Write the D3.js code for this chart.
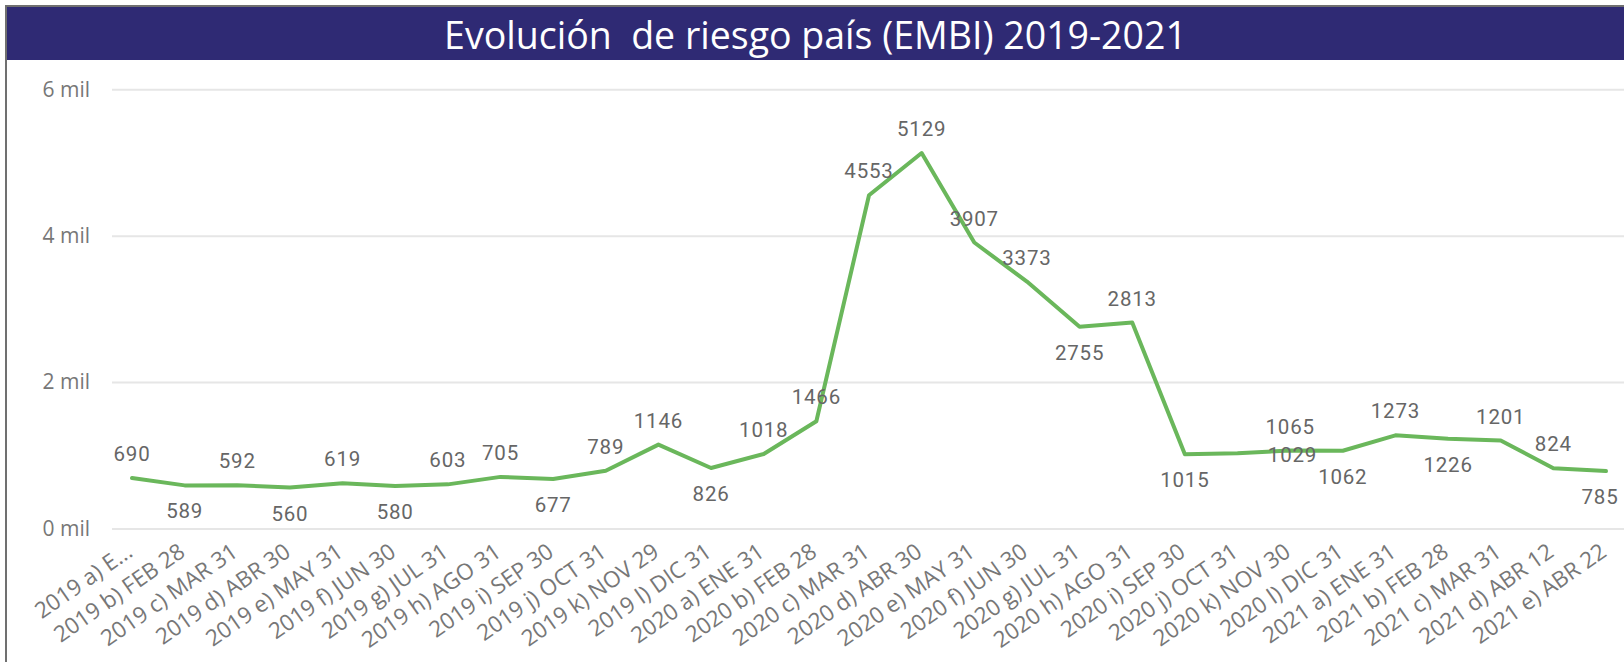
<!DOCTYPE html>
<html>
<head>
<meta charset="utf-8">
<script src="https://cdn.jsdelivr.net/npm/d3@7"></script>
<style>
    body { margin: 0; background: #ffffff; }
    svg { display: block; }
</style>
</head>
<body>
<svg id="embi-chart" width="1624" height="662"></svg>
<script>
const chartTitle = "Evolución\u00a0 de riesgo país (EMBI) 2019-2021";

const categories = [
    "2019 a) ENE 31", "2019 b) FEB 28", "2019 c) MAR 31", "2019 d) ABR 30", "2019 e) MAY 31",
    "2019 f) JUN 30", "2019 g) JUL 31", "2019 h) AGO 31", "2019 i) SEP 30", "2019 j) OCT 31",
    "2019 k) NOV 29", "2019 l) DIC 31", "2020 a) ENE 31", "2020 b) FEB 28", "2020 c) MAR 31",
    "2020 d) ABR 30", "2020 e) MAY 31", "2020 f) JUN 30", "2020 g) JUL 31", "2020 h) AGO 31",
    "2020 i) SEP 30", "2020 j) OCT 31", "2020 k) NOV 30", "2020 l) DIC 31", "2021 a) ENE 31",
    "2021 b) FEB 28", "2021 c) MAR 31", "2021 d) ABR 12", "2021 e) ABR 22"
];

const embi = [
    690, 589, 592, 560, 619, 580, 603, 705, 677, 789,
    1146, 826, 1018, 1466, 4553, 5129, 3907, 3373, 2755, 2813,
    1015, 1029, 1065, 1062, 1273, 1226, 1201, 824, 785
];

const yTicks = [0, 2000, 4000, 6000];

const drawChart = function (svg) {
    let width = +svg.attr("width");

    // frame + title banner
    svg.append("rect")
        .attr("x", 7).attr("y", 7)
        .attr("width", width - 7).attr("height", 53)
        .style("fill", "#2f2a74");
    svg.append("line")
        .attr("x1", 5).attr("x2", width).attr("y1", 6).attr("y2", 6)
        .style("stroke", "#707070").style("stroke-width", 2);
    svg.append("line")
        .attr("x1", 6).attr("x2", 6).attr("y1", 5).attr("y2", 662)
        .style("stroke", "#707070").style("stroke-width", 2);
    svg.append("text")
        .attr("x", (width + 7) / 2)
        .attr("y", 34)
        .attr("text-anchor", "middle")
        .attr("dominant-baseline", "central")
        .style("fill", "#ffffff")
        .style("font-family", "'Open Sans', sans-serif")
        .style("font-size", "37.5px")
        .text(chartTitle);

    let xScale = d3.scalePoint()
        .domain(categories)
        .range([132, 1606]);
    let yScale = d3.scaleLinear()
        .domain([0, 6000])
        .range([528.5, 89.3]);

    // gridlines with "mil" labels
    let leftGridlines = d3.axisLeft(yScale)
        .tickValues(yTicks)
        .tickSize(-(width - 112))
        .tickPadding(22)
        .tickFormat(d => `${d / 1000} mil`);

    let gy = svg.append("g")
        .attr("transform", "translate(112, 0)")
        .call(leftGridlines);
    gy.select(".domain").remove();
    gy.selectAll(".tick line")
        .style("stroke", "#e6e6e6")
        .style("stroke-width", 2);
    gy.selectAll(".tick text")
        .style("fill", "#777777")
        .style("font-family", "'Open Sans', sans-serif")
        .style("font-size", "21px");

    // rotated category labels
    let xLabels = svg.append("g");
    categories.forEach((c, i) => {
        let ax = xScale(c) + 2;
        let ay = 555;
        let t = xLabels.append("text")
            .attr("transform", `translate(${ax}, ${ay}) rotate(-35)`)
            .attr("text-anchor", "end")
            .style("fill", "#777777")
            .style("font-family", "'Open Sans', sans-serif")
            .style("font-size", "22.5px")
            .text(c);
        // truncate like the original when the label would run off the left edge
        let label = c;
        while (ax - t.node().getComputedTextLength() * Math.cos(35 * Math.PI / 180) < 30 && label.length > 1) {
            label = label.slice(0, -1).trimEnd();
            t.text(label + "...");
        }
    });

    // line
    let line = d3.line()
        .x((d, i) => xScale(categories[i]))
        .y(d => yScale(d));
    svg.append("path")
        .datum(embi)
        .attr("d", line)
        .style("fill", "none")
        .style("stroke", "#6ab75b")
        .style("stroke-width", 4)
        .style("stroke-linejoin", "round")
        .style("stroke-linecap", "round");

    // data labels, above or below the point as in the original
    let below = new Set([1, 3, 5, 8, 11, 18, 20, 23, 25, 28]);
    embi.forEach((v, i) => {
        let x = xScale(categories[i]);
        let y = yScale(v);
        let ly = below.has(i) ? y + 33 : y - 17;
        if (i === 21) { x += 55; ly = y + 9; }
        if (i === embi.length - 1) { x -= 6; }
        svg.append("text")
            .attr("x", x)
            .attr("y", ly)
            .attr("text-anchor", "middle")
            .style("fill", "#666666")
            .style("font-family", "Roboto, sans-serif")
            .style("font-size", "20.5px")
            .style("letter-spacing", "0.8px")
            .text(v);
    });
};

drawChart(d3.select("svg#embi-chart"));
</script>
</body>
</html>
